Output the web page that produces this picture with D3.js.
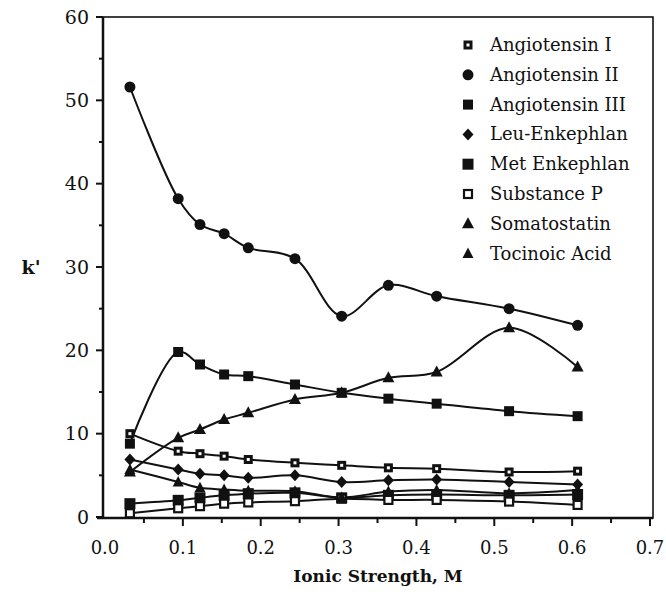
<!DOCTYPE html>
<html><head><meta charset="utf-8">
<script src="https://cdn.jsdelivr.net/npm/d3@7"></script>
<style>body{margin:0;background:#fff}svg{display:block}text{font-family:"DejaVu Serif","Liberation Serif",serif;fill:#111}</style>
</head><body>
<svg id="c" width="666" height="600"></svg>
<script>
const ionic = [0.032, 0.094, 0.122, 0.153, 0.184, 0.244, 0.304, 0.364, 0.426, 0.519, 0.607];
const angiotensinI   = [10.0, 7.9, 7.6, 7.3, 6.9, 6.5, 6.2, 5.9, 5.8, 5.4, 5.5];
const angiotensinII  = [51.6, 38.2, 35.1, 34.0, 32.3, 31.0, 24.1, 27.8, 26.5, 25.0, 23.0];
const angiotensinIII = [8.8, 19.8, 18.3, 17.1, 16.9, 15.9, 14.9, 14.2, 13.6, 12.7, 12.1];
const leuEnkephlan   = [6.9, 5.7, 5.2, 5.0, 4.7, 5.0, 4.2, 4.4, 4.5, 4.2, 3.9];
const metEnkephlan   = [1.6, 2.0, 2.3, 2.6, 2.8, 2.9, 2.3, 2.6, 2.7, 2.6, 2.7];
const substanceP     = [0.45, 1.05, 1.3, 1.6, 1.75, 1.9, 2.2, 2.05, 2.05, 1.85, 1.45];
const somatostatin   = [5.4, 9.5, 10.5, 11.7, 12.5, 14.1, 14.9, 16.7, 17.4, 22.7, 18.0];
const tocinoicAcid   = [5.7, 4.2, 3.5, 3.3, 3.15, 3.1, 2.35, 3.05, 3.25, 2.85, 3.25];
const seriesNames = ["Angiotensin I","Angiotensin II","Angiotensin III","Leu-Enkephlan","Met Enkephlan","Substance P","Somatostatin","Tocinoic Acid"];
const seriesValues = [angiotensinI, angiotensinII, angiotensinIII, leuEnkephlan, metEnkephlan, substanceP, somatostatin, tocinoicAcid];
const markerTypes = ["dotsquare","circle","square","diamond","bigsquare","opensquare","triangle","triangle2"];
const xTicks = [0,0.1,0.2,0.3,0.4,0.5,0.6,0.7];
const yTicks = [0,10,20,30,40,50,60];

const svg = d3.select("#c");
const x = d3.scaleLinear().domain([0,0.7]).range([105,650]);
const y = d3.scaleLinear().domain([0,60]).range([517,17]);

function drawMarker(g, type, cx, cy){
  const s = g.append("g").attr("transform",`translate(${cx},${cy})`);
  if(type==="circle") s.append("circle").attr("r",5.5).attr("fill","#111");
  else if(type==="diamond") s.append("path").attr("d","M0,-6L5.5,0L0,6L-5.5,0Z").attr("fill","#111");
  else if(type==="square") s.append("rect").attr("x",-5).attr("y",-5).attr("width",10).attr("height",10).attr("fill","#111");
  else if(type==="bigsquare") s.append("rect").attr("x",-5.5).attr("y",-5.5).attr("width",11).attr("height",11).attr("fill","#111");
  else if(type==="opensquare") s.append("rect").attr("x",-4).attr("y",-4).attr("width",8).attr("height",8).attr("fill","#fff").attr("stroke","#111").attr("stroke-width",2.2);
  else if(type==="dotsquare"){ s.append("rect").attr("x",-4.5).attr("y",-4.5).attr("width",9).attr("height",9).attr("fill","#111");
    s.append("rect").attr("x",-1.5).attr("y",-1.5).attr("width",3).attr("height",3).attr("fill","#fff"); }
  else if(type==="triangle") s.append("path").attr("d","M0,-6.5L6,4.5L-6,4.5Z").attr("fill","#111");
  else if(type==="triangle2") s.append("path").attr("d","M0,-6L5.5,4.5L-5.5,4.5Z").attr("fill","#111");
}

// frame
svg.append("rect").attr("x",x(0)-2).attr("y",y(60)).attr("width",x(0.7)+3-(x(0)-2)).attr("height",y(0)+1-y(60))
  .attr("fill","none").attr("stroke","#111").attr("stroke-width",1.6);
// axes
svg.append("line").attr("x1",x(0)-2).attr("x2",x(0)-2).attr("y1",y(60)).attr("y2",y(0)+1).attr("stroke","#111").attr("stroke-width",2.5);
svg.append("line").attr("x1",x(0)-8).attr("x2",x(0.7)+3).attr("y1",y(0)+1).attr("y2",y(0)+1).attr("stroke","#111").attr("stroke-width",2.5);

const yAxis = d3.axisLeft(y).tickValues(d3.range(0,61,5)).tickSize(0).tickFormat("");
svg.append("g").attr("transform",`translate(${x(0)-2},0)`).call(yAxis).call(g=>g.select(".domain").remove());
svg.selectAll(null).data(d3.range(0,61,5)).join("line")
  .attr("x1",d=>x(0)-2-(d%10===0?7:4)).attr("x2",x(0)-2).attr("y1",d=>y(d)).attr("y2",d=>y(d)).attr("stroke","#111").attr("stroke-width",2);
svg.selectAll(null).data(yTicks).join("text").attr("x",89).attr("y",d=>y(d)+6.5).attr("text-anchor","end").attr("font-size",19).text(d=>d);

svg.selectAll(null).data(d3.range(0,15).map(i=>i*0.05).filter(d=>d>0.01)).join("line")
  .attr("x1",d=>x(d)).attr("x2",d=>x(d)).attr("y1",y(0)+1).attr("y2",(d,i)=>y(0)+1+(i%2===1?8:5)).attr("stroke","#111").attr("stroke-width",2);
svg.selectAll(null).data(xTicks).join("text").attr("x",d=>x(d)).attr("y",554).attr("text-anchor","middle").attr("font-size",18).text(d=>d.toFixed(1));

svg.append("text").attr("x",378).attr("y",582).attr("text-anchor","middle").attr("font-size",17).attr("font-weight","bold").text("Ionic Strength, M");
svg.append("text").attr("x",31).attr("y",274).attr("text-anchor","middle").attr("font-size",19).attr("font-weight","bold").text("k'");

// lines
const line = d3.line().x(d=>x(d[0])).y(d=>y(d[1])).curve(d3.curveCatmullRom.alpha(0.5));
seriesValues.forEach((vals,i)=>{
  const pts = ionic.map((xv,j)=>[xv, vals[j]]);
  svg.append("path").attr("d",line(pts)).attr("fill","none").attr("stroke","#111").attr("stroke-width",2);
});
seriesValues.forEach((vals,i)=>{
  const g = svg.append("g");
  ionic.forEach((xv,j)=>drawMarker(g, markerTypes[i], x(xv), y(vals[j])));
});

// legend
seriesNames.forEach((n,i)=>{
  const ly = 45 + i*29.8;
  drawMarker(svg, markerTypes[i], 468, ly);
  svg.append("text").attr("x",490).attr("y",ly+6).attr("font-size",18).text(n);
});
</script>
</body></html>
